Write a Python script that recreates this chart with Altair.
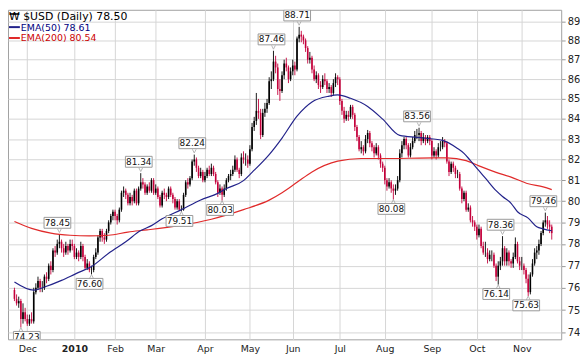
import altair as alt
import numpy as np
import pandas as pd

# ---------------- data ----------------
HOLIDAYS = ["2009-11-26", "2009-12-25", "2010-01-01", "2010-01-18", "2010-02-15",
            "2010-04-02", "2010-05-31", "2010-07-05", "2010-09-06"]

OPENS = [
    75.9, 75.5, 75.3, 75.4, 74.6, 74.9, 74.6, 74.4, 74.6, 74.5,
    75.8, 76.0, 76.3, 76.0, 76.0, 76.5, 76.4, 77.0, 76.8, 77.7,
    77.6, 78.0, 78.1, 77.8, 77.6, 77.9, 77.7, 78.0, 77.9, 77.4,
    77.6, 77.4, 77.9, 77.4, 76.9, 77.1, 76.8, 76.8, 77.4, 77.6,
    78.3, 78.6, 78.3, 78.2, 78.6, 79.0, 79.3, 79.5, 79.3, 79.1,
    79.6, 80.4, 80.5, 80.3, 79.9, 80.2, 80.0, 80.5, 79.9, 80.6,
    80.9, 80.8, 80.4, 80.7, 80.5, 81.0, 80.4, 80.6, 80.2, 79.8,
    80.4, 80.3, 80.2, 80.6, 80.3, 80.1, 79.7, 80.0, 79.6, 79.6,
    80.3, 80.9, 80.8, 81.1, 81.9, 82.0, 81.6, 81.2, 81.4, 81.0,
    81.2, 81.5, 81.3, 81.6, 81.3, 80.9, 80.4, 80.6, 80.3, 80.6,
    81.0, 81.2, 81.3, 81.5, 82.0, 81.5, 81.3, 82.1, 82.0, 82.0,
    81.8, 82.5, 83.6, 83.9, 84.4, 84.3, 83.2, 84.3, 84.5, 84.8,
    85.9, 86.0, 86.9, 86.6, 85.5, 85.4, 86.2, 86.8, 86.6, 86.0,
    86.4, 86.7, 86.5, 88.1, 88.3, 88.2, 88.0, 87.6, 87.0, 87.1,
    86.5, 86.0, 86.2, 85.7, 85.6, 86.0, 85.9, 85.5, 85.6, 85.3,
    85.8, 86.1, 86.0, 84.9, 84.4, 84.0, 84.2, 84.1, 84.6, 84.2,
    83.6, 83.1, 82.5, 82.6, 82.4, 83.0, 83.3, 82.8, 82.6, 82.3,
    82.6, 82.2, 81.8, 81.6, 81.0, 80.7, 80.9, 80.6, 80.5, 80.6,
    81.0, 82.3, 82.7, 83.0, 82.7, 82.2, 82.6, 82.9, 83.2, 83.2,
    83.3, 82.9, 83.1, 82.9, 83.1, 82.9, 82.2, 82.4, 82.2, 82.6,
    82.6, 82.9, 82.8, 81.9, 81.4, 81.8, 81.6, 81.3, 81.3, 80.6,
    80.1, 80.4, 79.6, 79.7, 79.1, 79.0, 78.8, 78.4, 78.7, 77.9,
    77.6, 77.6, 77.3, 77.5, 77.5, 77.0, 76.5, 77.0, 77.2, 77.8,
    77.2, 77.6, 77.2, 77.1, 77.4, 78.0, 77.2, 77.0, 77.0, 76.8,
    76.4, 75.8, 76.6, 77.1, 77.6, 77.7, 78.0, 78.5, 79.0, 79.1,
    78.9, 78.8,
]
HIGHS = [
    76.0, 75.7, 75.6, 75.5, 75.3, 75.1, 74.8, 74.8, 74.9, 76.0,
    76.2, 76.5, 76.4, 76.3, 76.6, 76.7, 77.1, 77.2, 77.8, 77.9,
    78.2, 78.45, 78.2, 78.0, 78.1, 78.0, 78.2, 78.2, 78.0, 77.8,
    77.7, 78.1, 78.0, 77.5, 77.3, 77.2, 77.0, 77.5, 77.8, 78.4,
    78.7, 78.7, 78.5, 78.7, 79.1, 79.4, 79.6, 79.6, 79.4, 79.7,
    80.5, 80.7, 80.6, 80.4, 80.4, 80.3, 80.6, 80.6, 80.7, 81.34,
    81.1, 80.9, 80.8, 80.9, 81.1, 81.1, 80.8, 80.7, 80.3, 80.5,
    80.6, 80.4, 80.7, 80.7, 80.4, 80.2, 80.1, 80.1, 79.8, 80.4,
    81.0, 81.1, 81.2, 82.0, 82.24, 82.1, 81.7, 81.6, 81.5, 81.4,
    81.6, 81.7, 81.8, 81.7, 81.4, 81.0, 80.8, 80.7, 80.8, 81.1,
    81.3, 81.5, 81.7, 82.2, 82.1, 81.6, 82.3, 82.4, 82.3, 82.2,
    82.7, 83.8, 84.1, 85.3, 85.0, 84.5, 84.5, 84.8, 85.0, 86.1,
    86.4, 87.46, 87.2, 86.8, 86.0, 86.4, 87.0, 87.1, 86.7, 86.6,
    87.0, 86.9, 88.2, 88.71, 88.5, 88.3, 88.1, 87.7, 87.4, 87.2,
    86.7, 86.4, 86.3, 85.9, 86.2, 86.3, 86.0, 85.8, 85.7, 86.0,
    86.3, 86.2, 86.1, 85.0, 84.6, 84.4, 84.4, 84.7, 84.7, 84.3,
    83.7, 83.2, 82.9, 82.7, 83.2, 83.45, 83.4, 82.9, 82.7, 82.8,
    82.7, 82.3, 81.9, 81.7, 81.1, 81.1, 81.0, 80.8, 80.8, 81.2,
    82.5, 82.9, 83.1, 83.1, 82.8, 82.8, 83.1, 83.4, 83.5, 83.56,
    83.4, 83.3, 83.2, 83.2, 83.2, 83.0, 82.6, 82.5, 82.8, 82.9,
    83.1, 83.0, 82.9, 82.0, 81.9, 81.9, 81.7, 81.5, 81.4, 80.7,
    80.5, 80.5, 79.9, 79.8, 79.3, 79.1, 78.9, 78.9, 78.8, 78.1,
    78.1, 77.8, 77.7, 77.7, 77.6, 77.1, 77.2, 77.4, 78.36, 77.9,
    77.8, 77.7, 77.3, 77.6, 78.3, 78.1, 77.4, 77.4, 77.1, 76.9,
    76.6, 76.7, 77.3, 77.8, 77.9, 78.2, 78.6, 79.1, 79.46, 79.3,
    79.1, 78.9,
]
LOWS = [
    75.4, 75.2, 75.1, 74.23, 74.4, 74.5, 74.3, 74.3, 74.4, 74.4,
    75.7, 75.9, 75.8, 75.8, 75.9, 76.2, 76.3, 76.6, 76.7, 77.4,
    77.5, 77.8, 77.6, 77.4, 77.5, 77.5, 77.6, 77.7, 77.3, 77.3,
    77.2, 77.3, 77.2, 76.8, 76.8, 76.7, 76.6, 76.7, 77.3, 77.5,
    78.1, 78.1, 78.0, 78.1, 78.5, 78.9, 79.1, 79.1, 78.9, 79.0,
    79.5, 80.2, 80.1, 79.8, 79.8, 79.8, 79.9, 79.8, 79.8, 80.5,
    80.6, 80.3, 80.3, 80.4, 80.4, 80.3, 80.3, 80.1, 79.7, 79.7,
    80.1, 80.0, 80.1, 80.2, 79.9, 79.6, 79.6, 79.55, 79.51, 79.55,
    80.2, 80.6, 80.7, 81.0, 81.7, 81.4, 81.1, 81.1, 80.9, 80.9,
    81.1, 81.2, 81.2, 81.2, 80.8, 80.2, 80.3, 80.03, 80.2, 80.5,
    80.9, 81.0, 81.2, 81.4, 81.4, 81.1, 81.2, 81.8, 81.7, 81.6,
    81.7, 82.4, 83.4, 83.7, 84.0, 83.0, 83.1, 84.1, 84.3, 84.7,
    85.5, 85.9, 86.3, 85.2, 84.9, 85.3, 86.0, 86.4, 85.8, 85.9,
    86.2, 86.2, 86.4, 87.9, 87.9, 87.8, 87.4, 86.8, 86.8, 86.3,
    85.9, 85.8, 85.5, 85.3, 85.5, 85.7, 85.3, 85.3, 85.1, 85.2,
    85.6, 85.7, 84.7, 84.2, 83.8, 83.9, 83.9, 84.0, 84.0, 83.4,
    82.9, 82.4, 82.3, 82.2, 82.3, 82.8, 82.6, 82.4, 82.1, 82.2,
    82.0, 81.6, 81.4, 80.8, 80.5, 80.6, 80.4, 80.08, 80.3, 80.5,
    80.9, 82.1, 82.5, 82.5, 82.1, 82.1, 82.5, 82.8, 83.0, 82.9,
    82.7, 82.8, 82.7, 82.8, 82.7, 82.0, 82.1, 82.0, 82.1, 82.4,
    82.5, 82.6, 81.8, 81.2, 81.3, 81.4, 81.1, 81.1, 80.5, 79.9,
    80.0, 79.5, 79.5, 79.0, 78.8, 78.6, 78.2, 78.3, 77.8, 77.5,
    77.4, 77.1, 77.2, 77.2, 76.9, 76.3, 76.14, 76.8, 77.0, 77.0,
    77.0, 77.0, 76.9, 76.9, 77.3, 77.1, 76.8, 76.8, 76.6, 76.2,
    75.63, 75.7, 76.5, 77.0, 77.3, 77.5, 77.9, 78.4, 78.8, 78.7,
    78.5, 78.2,
]
CLOSES = [
    75.5, 75.3, 75.4, 74.6, 74.9, 74.6, 74.4, 74.6, 74.5, 75.8,
    76.0, 76.3, 76.0, 76.0, 76.5, 76.4, 77.0, 76.8, 77.7, 77.6,
    78.0, 78.1, 77.8, 77.6, 77.9, 77.7, 78.0, 77.9, 77.4, 77.6,
    77.4, 77.9, 77.4, 76.9, 77.1, 76.8, 76.8, 77.4, 77.6, 78.3,
    78.6, 78.3, 78.2, 78.6, 79.0, 79.3, 79.5, 79.3, 79.1, 79.6,
    80.4, 80.5, 80.3, 79.9, 80.2, 80.0, 80.5, 79.9, 80.6, 80.9,
    80.8, 80.4, 80.7, 80.5, 81.0, 80.4, 80.6, 80.2, 79.8, 80.4,
    80.3, 80.2, 80.6, 80.3, 80.1, 79.7, 80.0, 79.6, 79.6, 80.3,
    80.9, 80.8, 81.1, 81.9, 82.0, 81.6, 81.2, 81.4, 81.0, 81.2,
    81.5, 81.3, 81.6, 81.3, 80.9, 80.4, 80.6, 80.3, 80.6, 81.0,
    81.2, 81.3, 81.5, 82.0, 81.5, 81.3, 82.1, 82.0, 82.0, 81.8,
    82.5, 83.6, 83.9, 84.4, 84.3, 83.2, 84.3, 84.5, 84.8, 85.9,
    86.0, 86.9, 86.6, 85.5, 85.4, 86.2, 86.8, 86.6, 86.0, 86.4,
    86.7, 86.5, 88.1, 88.3, 88.2, 88.0, 87.6, 87.0, 87.1, 86.5,
    86.0, 86.2, 85.7, 85.6, 86.0, 85.9, 85.5, 85.6, 85.3, 85.8,
    86.1, 86.0, 84.9, 84.4, 84.0, 84.2, 84.1, 84.6, 84.2, 83.6,
    83.1, 82.5, 82.6, 82.4, 83.0, 83.3, 82.8, 82.6, 82.3, 82.6,
    82.2, 81.8, 81.6, 81.0, 80.7, 80.9, 80.6, 80.5, 80.6, 81.0,
    82.3, 82.7, 83.0, 82.7, 82.2, 82.6, 82.9, 83.2, 83.2, 83.3,
    82.9, 83.1, 82.9, 83.1, 82.9, 82.2, 82.4, 82.2, 82.6, 82.6,
    82.9, 82.8, 81.9, 81.4, 81.8, 81.6, 81.3, 81.3, 80.6, 80.1,
    80.4, 79.6, 79.7, 79.1, 79.0, 78.8, 78.4, 78.7, 77.9, 77.6,
    77.6, 77.3, 77.5, 77.5, 77.0, 76.5, 77.0, 77.2, 77.8, 77.2,
    77.6, 77.2, 77.1, 77.4, 78.0, 77.2, 77.0, 77.0, 76.8, 76.4,
    75.8, 76.6, 77.1, 77.6, 77.7, 78.0, 78.5, 79.0, 79.1, 78.9,
    78.8, 78.5,
]

EMA50_IDX = [0, 9, 14, 22, 29, 36, 44, 52, 59, 64, 69, 78, 87, 95, 99, 107, 111,
             119, 125, 132, 139, 147, 151, 157, 165, 172, 180, 188, 200, 207, 210,
             213, 217, 220, 225, 228, 232, 235, 240, 244, 247, 251]
EMA50_VAL = [76.26, 75.89, 76.03, 76.33, 76.65, 76.96, 77.57, 78.10, 78.62, 78.85,
             79.17, 79.60, 80.06, 80.37, 80.60, 80.98, 81.38, 82.24, 83.05, 84.14,
             84.85, 85.14, 85.20, 85.03, 84.62, 83.99, 83.18, 83.08, 82.94, 82.54,
             82.30, 81.95, 81.46, 81.10, 80.50, 80.22, 79.90, 79.50, 79.20, 78.80,
             78.70, 78.61]

EMA200_IDX = [0, 8, 17, 26, 35, 44, 53, 62, 77, 92, 107, 119, 125, 132, 139, 151,
              162, 177, 189, 202, 211, 217, 225, 232, 240, 247, 251]
EMA200_VAL = [79.04, 78.72, 78.50, 78.40, 78.37, 78.40, 78.55, 78.65, 78.85, 79.15,
              79.60, 80.05, 80.40, 80.90, 81.40, 81.92, 82.05, 82.05, 82.07, 82.08,
              81.95, 81.69, 81.38, 81.15, 80.83, 80.68, 80.55]

LABEL_IDX = [3, 21, 36, 59, 78, 84, 97, 121, 133, 177, 189, 226, 228, 240, 248]
LABEL_VAL = [74.23, 78.45, 76.60, 81.34, 79.51, 82.24, 80.03, 87.46, 88.71, 80.08,
             83.56, 76.14, 78.36, 75.63, 79.46]
LABEL_KIND = ["low", "high", "low", "high", "low", "high", "low", "high", "high",
              "low", "high", "low", "high", "low", "high"]

MONTH_NAMES = ["Dec", "2010", "Feb", "Mar", "Apr", "May", "Jun", "Jul", "Aug",
               "Sep", "Oct", "Nov"]
Y_TICKS = list(range(74, 90))

HEADER = "\u20a9 $USD (Daily) 78.50"
LEG50 = "EMA(50) 78.61"
LEG200 = "EMA(200) 80.54"

# ---------------- styling ----------------
FONT = "DejaVu Sans"
UP = "#000000"
DOWN = "#c4003b"
NAVY = "#22228a"
RED = "#e02a2a"
GRID = "#d6d6d6"
W, H = 559, 333

# ---------------- frames ----------------
dates = [d for d in pd.bdate_range("2009-11-20", "2010-11-19")
         if d.strftime("%Y-%m-%d") not in HOLIDAYS]
n = len(dates)
df = pd.DataFrame({"idx": np.arange(n), "open": OPENS, "high": HIGHS,
                   "low": LOWS, "close": CLOSES})
prev = df["close"].shift(1).fillna(df["open"])
df["dir"] = np.where(df["close"] >= prev, "up", "down")

ym = [d.strftime("%Y-%m") for d in dates]
month_starts = [i for i in range(1, n) if ym[i] != ym[i - 1]]
label_expr = "".join(f"datum.value == {i} ? '{m}' : " for i, m in
                     zip(month_starts, MONTH_NAMES)) + "''"

ema50_df = pd.DataFrame({"idx": EMA50_IDX, "value": EMA50_VAL})
ema200_df = pd.DataFrame({"idx": EMA200_IDX, "value": EMA200_VAL})
lab = pd.DataFrame({"idx": LABEL_IDX, "value": LABEL_VAL, "kind": LABEL_KIND})
lab["text"] = lab["value"].map(lambda v: f"{v:.2f}")
first_idx = lab["idx"].min()
lab_hi = lab[lab["kind"] == "high"]
lab_lo = lab[(lab["kind"] == "low") & (lab["idx"] != first_idx)]
lab_edge = lab[lab["idx"] == first_idx]

xs = alt.Scale(domain=[-0.7, n + 1.1], nice=False, zero=False)
ys = alt.Scale(type="log", domain=[73.71, 89.61], nice=False)
cscale = alt.Scale(domain=["up", "down"], range=[UP, DOWN])

x_axis = alt.Axis(values=month_starts, labelExpr=label_expr, grid=True,
                  gridColor=GRID, ticks=False, domain=False, title=None,
                  labelFont=FONT, labelFontSize=9.5, labelColor="#222222",
                  labelPadding=4, labelFlush=False, labelOverlap=False,
                  labelFontWeight={"condition": {"test": f"datum.value == {month_starts[1]}",
                                                 "value": "bold"}, "value": "normal"})
y_axis = alt.Axis(orient="right", values=Y_TICKS, format="d", grid=True,
                  gridColor=GRID, tickSize=4, tickColor="#999999", domain=False,
                  title=None, labelFont=FONT, labelFontSize=10,
                  labelColor="#222222", labelPadding=2, labelOverlap=False,
                  labelFlush=False)

X = alt.X("idx:Q", scale=xs, axis=x_axis)

wicks = alt.Chart(df).mark_rule(strokeWidth=0.9).encode(
    x=X, y=alt.Y("low:Q", scale=ys, axis=y_axis), y2="high:Q",
    color=alt.Color("dir:N", scale=cscale, legend=None))

bodies = alt.Chart(df).mark_bar(size=1.6, strokeWidth=0, orient="vertical").encode(
    x=X, y=alt.Y("open:Q", scale=ys, axis=y_axis), y2="close:Q",
    fill=alt.Fill("dir:N", scale=cscale, legend=None))

ema200 = alt.Chart(ema200_df).mark_line(color=RED, strokeWidth=1.2,
                                         interpolate="monotone").encode(
    x=X, y=alt.Y("value:Q", scale=ys, axis=y_axis))
ema50 = alt.Chart(ema50_df).mark_line(color=NAVY, strokeWidth=1.2,
                                       interpolate="monotone").encode(
    x=X, y=alt.Y("value:Q", scale=ys, axis=y_axis))


def label_layers(frame, kind, dx=0.0):
    if kind == "high":
        y0, y1, ty, cy, shape = -17, -6, -11.5, -3.5, "M -1 -1 L 0 1 L 1 -1"
    else:
        y0, y1, ty, cy, shape = 4, 15, 9.5, 2, "M -1 1 L 0 -1 L 1 1"
    enc = dict(x=X, y=alt.Y("value:Q", scale=ys, axis=y_axis))
    box = alt.Chart(frame).mark_rect(
        fill="white", stroke="#9a9a9a", strokeWidth=1, clip=True,
        xOffset=-15.5 + dx, x2Offset=11.5 + dx, yOffset=y0, y2Offset=y1).encode(
        x2="idx:Q", y2="value:Q", **enc)
    caret = alt.Chart(frame).mark_point(
        shape=shape, size=14, filled=False, stroke="#9a9a9a", strokeWidth=1,
        yOffset=cy, clip=True).encode(**enc)
    txt = alt.Chart(frame).mark_text(
        font=FONT, fontSize=9, color="#111111", baseline="middle", align="center",
        xOffset=-2 + dx, yOffset=ty, clip=True).encode(text="text:N", **enc)
    return [box, caret, txt]


one = pd.DataFrame({"k": [0]})
header = alt.Chart(pd.DataFrame({"t": [HEADER]})).mark_text(
    font=FONT, fontSize=11, align="left", baseline="middle", color="#000000").encode(
    text="t:N", x=alt.value(1), y=alt.value(7))
sw50 = alt.Chart(one).mark_rule(color=NAVY, strokeWidth=2).encode(
    x=alt.value(1), x2=alt.value(12), y=alt.value(17.5))
t50 = alt.Chart(pd.DataFrame({"t": [LEG50]})).mark_text(
    font=FONT, fontSize=9.5, align="left", baseline="middle", color="#000080").encode(
    text="t:N", x=alt.value(13), y=alt.value(18))
sw200 = alt.Chart(one).mark_rule(color=RED, strokeWidth=2).encode(
    x=alt.value(1), x2=alt.value(12), y=alt.value(28.5))
t200 = alt.Chart(pd.DataFrame({"t": [LEG200]})).mark_text(
    font=FONT, fontSize=9.5, align="left", baseline="middle", color="#cc0000").encode(
    text="t:N", x=alt.value(13), y=alt.value(29))

layers = [wicks, bodies, ema200, ema50]
layers += label_layers(lab_hi, "high") + label_layers(lab_lo, "low")
layers += label_layers(lab_edge, "low", dx=8.0)
layers += [header, sw50, t50, sw200, t200]

chart = alt.layer(*layers).properties(
    width=W, height=H, padding={"left": 0, "top": 0, "right": 0, "bottom": 0},
    background="white",
).configure_view(stroke="#a0a0a0", strokeWidth=1)

chart.save("out.html", embed_options={"renderer": "svg", "actions": False})
